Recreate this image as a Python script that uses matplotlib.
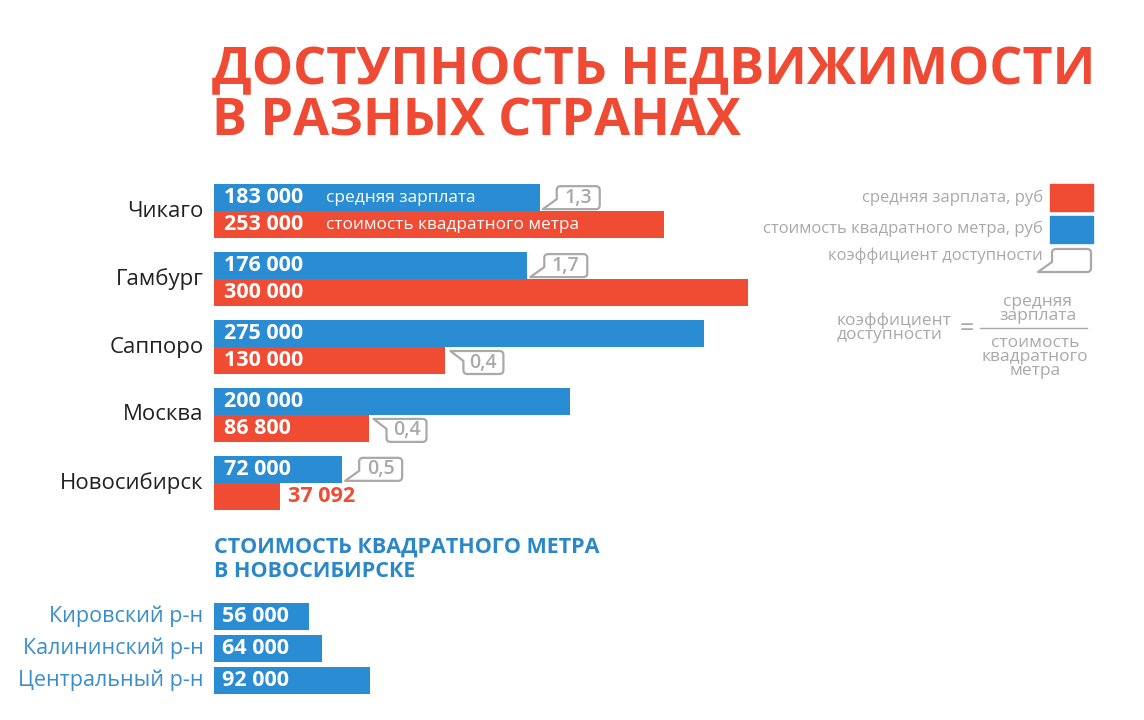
import matplotlib.pyplot as plt
from matplotlib.patches import Rectangle, PathPatch
from matplotlib.path import Path
import matplotlib.transforms as mtransforms

plt.rcParams['font.family'] = ['Open Sans', 'DejaVu Sans']

# данные
cities = ['Чикаго', 'Гамбург', 'Саппоро', 'Москва', 'Новосибирск']
blue_vals = [183000, 176000, 275000, 200000, 72000]
red_vals = [253000, 300000, 130000, 86800, 37092]
ratios = ['1,3', '1,7', '0,4', '0,4', '0,5']
ratio_on = ['blue', 'blue', 'red', 'red', 'blue']

districts = ['Кировский р-н', 'Калининский р-н', 'Центральный р-н']
district_vals = [56000, 64000, 92000]

BLUE = '#2a8dd4'
RED = '#f04b33'
GRAY = '#a9a9a9'

W, H = 1144, 720
fig = plt.figure(figsize=(W / 100, H / 100), dpi=100)
ident = mtransforms.IdentityTransform()


def fx(x):
    return x / W


def fy(y):
    return 1 - y / H


def fmt(v):
    return f'{v:,}'.replace(',', ' ')


def bubble(tx, ty, text, up=True, w=43, h=23, k=14, r=4):
    # облачко коэффициента, координаты в пикселях (y вверх)
    s = 1 if up else -1
    L, R = tx + k, tx + k + w
    B, T = ty, ty + s * h
    verts = [(tx, B), (R - r, B), (R, B), (R, B + s * r), (R, T - s * r),
             (R, T), (R - r, T), (L + r, T), (L, T), (L, T - s * r),
             (L, B + s * 10), (tx, B)]
    codes = [Path.MOVETO, Path.LINETO, Path.CURVE3, Path.CURVE3, Path.LINETO,
             Path.CURVE3, Path.CURVE3, Path.LINETO, Path.CURVE3, Path.CURVE3,
             Path.LINETO, Path.CLOSEPOLY]
    patch = PathPatch(Path(verts, codes), transform=ident, fc='white',
                      ec=GRAY, lw=1.6, joinstyle='round')
    fig.add_artist(patch)
    if text:
        fig.text((L + R) / 2, ty + s * h / 2, text, transform=ident,
                 ha='center', va='center', color=GRAY, fontsize=14,
                 weight='semibold')


# заголовок
fig.text(fx(212), fy(135), 'ДОСТУПНОСТЬ НЕДВИЖИМОСТИ\nВ РАЗНЫХ СТРАНАХ',
         color='#ef4a33', fontsize=37.5, weight='bold', va='baseline',
         linespacing=0.95)

# основной график
ax = fig.add_axes([fx(214), fy(510), 534 / W, 326 / H])
ax.set_xlim(0, 300000)
ax.set_ylim(4.4, -0.4)
ax.axis('off')

n = len(cities)
ax.barh([i - 0.2 for i in range(n)], blue_vals, height=0.4, color=BLUE)
ax.barh([i + 0.2 for i in range(n)], red_vals, height=0.4, color=RED)

for i in range(n):
    ax.annotate(cities[i], xy=(0, i), xytext=(-7.5, 0), textcoords='offset points',
                ha='right', va='center', fontsize=16, color='#222222')
    ax.annotate(fmt(blue_vals[i]), xy=(0, i - 0.2), xytext=(7, 0),
                textcoords='offset points', ha='left', va='center',
                fontsize=15.5, weight='bold', color='white')
    if red_vals[i] > 50000:
        ax.annotate(fmt(red_vals[i]), xy=(0, i + 0.2), xytext=(7, 0),
                    textcoords='offset points', ha='left', va='center',
                    fontsize=15.5, weight='bold', color='white')
    else:
        ax.annotate(fmt(red_vals[i]), xy=(red_vals[i], i + 0.2), xytext=(6, 0),
                    textcoords='offset points', ha='left', va='center',
                    fontsize=15.5, weight='bold', color=RED)

# подписи внутри первой группы
ax.annotate('средняя зарплата', xy=(0, -0.2), xytext=(81, 0),
            textcoords='offset points', ha='left', va='center',
            fontsize=12.4, color='white')
ax.annotate('стоимость квадратного метра', xy=(0, 0.2), xytext=(81, 0),
            textcoords='offset points', ha='left', va='center',
            fontsize=12.4, color='white')

fig.canvas.draw()
for i in range(n):
    if ratio_on[i] == 'blue':
        px, py = ax.transData.transform((blue_vals[i], i))
        bubble(px + 3, py + 2, ratios[i], up=True)
    else:
        px, py = ax.transData.transform((red_vals[i], i))
        bubble(px + 5, py - 4, ratios[i], up=False, w=40, k=13)

# легенда
leg_txt = ['средняя зарплата, руб', 'стоимость квадратного метра, руб',
           'коэффициент доступности']
fig.text(fx(1043), fy(198), leg_txt[0], ha='right', va='center',
         fontsize=12, color=GRAY)
fig.text(fx(1043), fy(229), leg_txt[1], ha='right', va='center',
         fontsize=12, color=GRAY)
fig.text(fx(1043), fy(256), leg_txt[2], ha='right', va='center',
         fontsize=12, color=GRAY)
fig.add_artist(Rectangle((fx(1050), fy(211)), 43 / W, 27 / H,
                         transform=fig.transFigure, color=RED))
fig.add_artist(Rectangle((fx(1050), fy(243)), 43 / W, 27 / H,
                         transform=fig.transFigure, color=BLUE))
bubble(1038, H - 272, '', up=True, w=39, h=23, k=14)

# формула
fig.text(fx(837), fy(328), 'коэффициент\nдоступности', ha='left', va='center',
         fontsize=12.5, color=GRAY, linespacing=0.8)
fig.text(fx(967), fy(330), '=', ha='center', va='center', fontsize=18,
         color=GRAY)
fig.add_artist(plt.Line2D([fx(980), fx(1087)], [fy(328), fy(328)],
                          transform=fig.transFigure, color=GRAY, lw=1))
fig.text(fx(1038), fy(309), 'средняя\nзарплата', ha='center', va='center',
         fontsize=12.5, color=GRAY, linespacing=0.8)
fig.text(fx(1035), fy(357), 'стоимость\nквадратного\nметра', ha='center',
         va='center', fontsize=12.5, color=GRAY, linespacing=0.8)

# Новосибирск по районам
fig.text(fx(214), fy(553), 'СТОИМОСТЬ КВАДРАТНОГО МЕТРА', color='#2a87c8',
         fontsize=15.5, weight='bold', va='baseline')
fig.text(fx(214), fy(577), 'В НОВОСИБИРСКЕ', color='#2a87c8',
         fontsize=15.5, weight='bold', va='baseline')

ax2 = fig.add_axes([fx(214), fy(694), 534 / W, 91 / H])
ax2.set_xlim(0, 315000)
ax2.set_ylim(2.42, -0.42)
ax2.axis('off')
ax2.barh(range(len(districts)), district_vals, height=0.84, color=BLUE)
for i, (d, v) in enumerate(zip(districts, district_vals)):
    ax2.annotate(d, xy=(0, i), xytext=(-7.5, 0), textcoords='offset points',
                 ha='right', va='center', fontsize=15.5, color='#3a8ecb')
    ax2.annotate(fmt(v), xy=(0, i), xytext=(6, 0), textcoords='offset points',
                 ha='left', va='center', fontsize=15.5, weight='bold',
                 color='white')

fig.savefig('out.png', dpi=100)
